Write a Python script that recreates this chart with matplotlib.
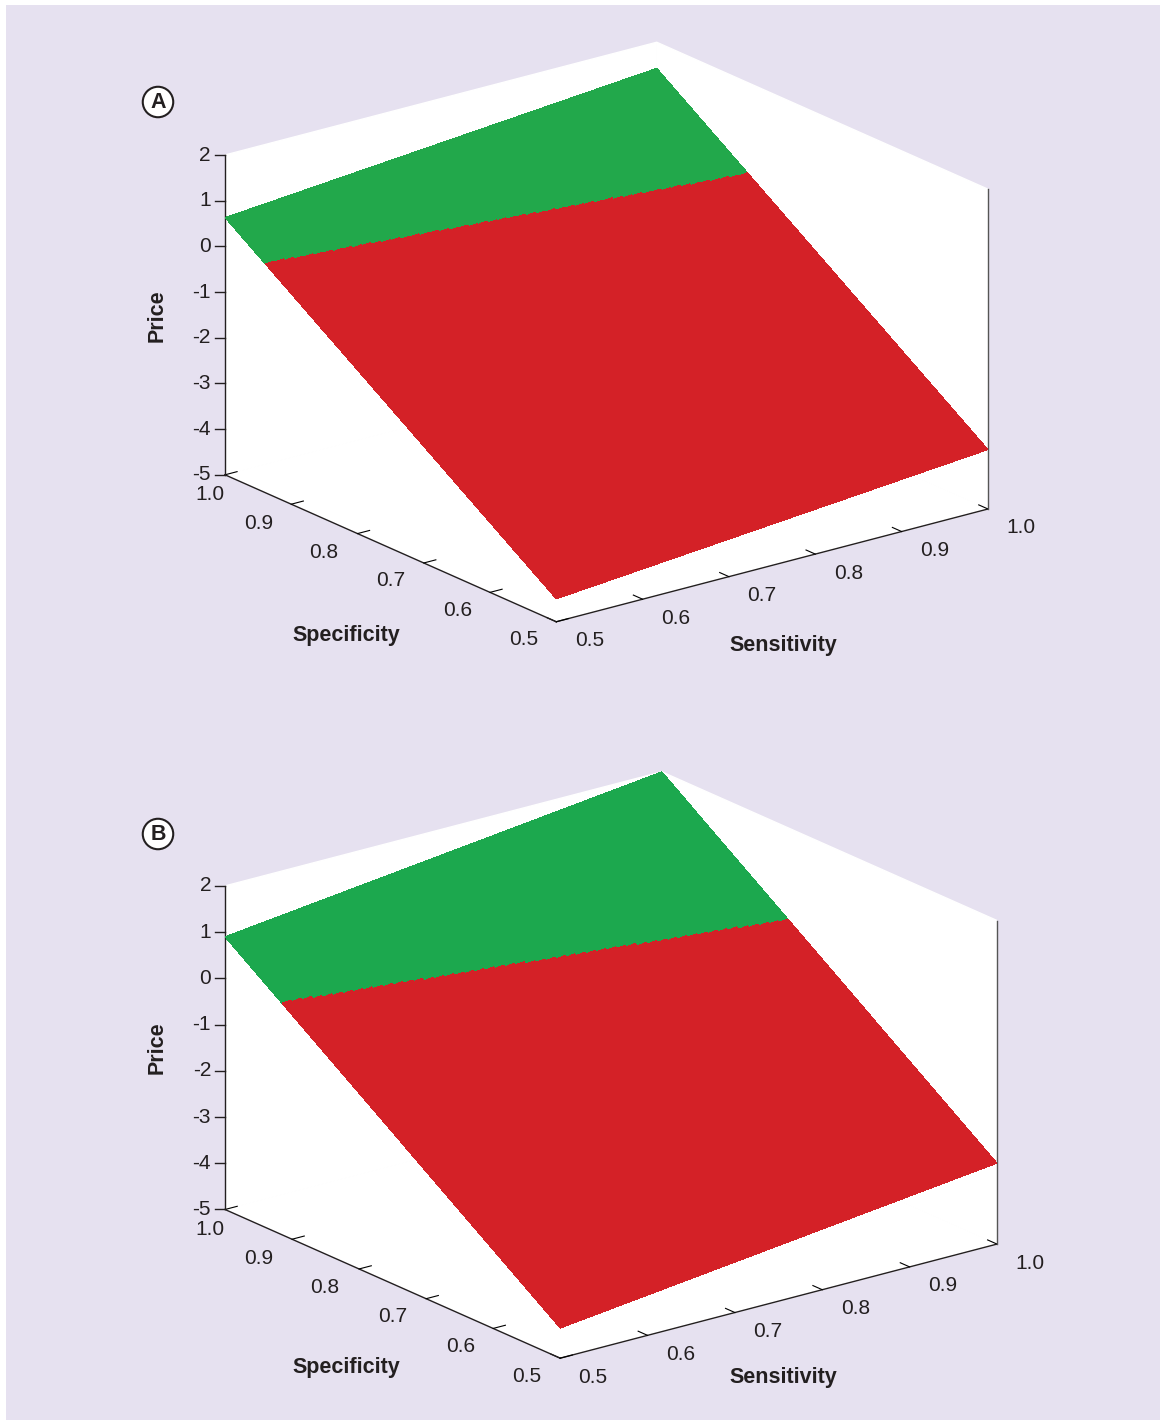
import numpy as np
import matplotlib
matplotlib.use("Agg")
import matplotlib.pyplot as plt
from matplotlib.patches import Rectangle
from matplotlib.lines import Line2D
from mpl_toolkits.mplot3d import proj3d

plt.rcParams['font.family'] = ['Liberation Sans', 'DejaVu Sans']
plt.rcParams['axes.unicode_minus'] = False

# ---------------- data ----------------
panel_letters = ["A", "B"]
# price plane: price = intercept + sens_coef * sensitivity + spec_coef * specificity
intercepts = [-10.43, -10.70]
sens_coefs = [1.60, 2.20]
spec_coefs = [10.26, 10.50]
sens_ticks = [0.5, 0.6, 0.7, 0.8, 0.9, 1.0]
spec_ticks = [0.5, 0.6, 0.7, 0.8, 0.9, 1.0]
price_ticks = [-5, -4, -3, -2, -1, 0, 1, 2]
tick_labels_01 = ["0.5", "0.6", "0.7", "0.8", "0.9", "1.0"]
price_labels = ["-5", "-4", "-3", "-2", "-1", "0", "1", "2"]
green_colors = ["#22A84B", "#1CA84E"]
red_color = "#D42127"
bg_color = "#E6E1F0"
ink = "#231F20"

W, H = 1161, 1422
fig = plt.figure(figsize=(W / 100, H / 100), dpi=100)
fig.patch.set_facecolor("white")
fig.patches.append(Rectangle((6 / W, 1 - 1420 / H), (1160 - 6) / W, (1420 - 5) / H,
                             transform=fig.transFigure, facecolor=bg_color,
                             edgecolor="none", zorder=-10))

# target pixel boxes (left, top, right, bottom) of the projected 3-D box
targets = [(225, 41, 988, 623), (225, 774, 997, 1356)]
label_pos = [
    dict(spec=(346, 636), sens=(783, 645), price=(157, 316), letter=(158, 102)),
    dict(spec=(346, 1368), sens=(783, 1378), price=(157, 1048), letter=(158, 834)),
]
# pixel offsets of tick labels from their tick points
sens_label_offset = (33, 19)
spec_label_offsets = [(-33, 18), (-32, 18), (-33, 18), (-34, 19), (-33, 19), (-15, 20)]

sens_grid = np.linspace(0.5, 1.0, 51)
spec_grid = np.linspace(0.5, 1.0, 501)
S, P = np.meshgrid(sens_grid, spec_grid)


def px2fig(x, y):
    return x / W, 1 - y / H


def to_px(ax, xs, ys, zs):
    x2, y2, _ = proj3d.proj_transform(np.asarray(xs, float), np.asarray(ys, float),
                                      np.asarray(zs, float), ax.get_proj())
    d = ax.transData.transform(np.column_stack([x2, y2]))
    return d[:, 0], H - d[:, 1]


def fit_axes(ax, box):
    tl, tt, tr, tb = box
    xl, yl, zl = ax.get_xlim(), ax.get_ylim(), ax.get_zlim()
    cx = [xl[i] for i in (0, 1) for j in (0, 1) for k in (0, 1)]
    cy = [yl[j] for i in (0, 1) for j in (0, 1) for k in (0, 1)]
    cz = [zl[k] for i in (0, 1) for j in (0, 1) for k in (0, 1)]
    for _ in range(4):
        fig.canvas.draw()
        px, py = to_px(ax, cx, cy, cz)
        s = (tr - tl) / (px.max() - px.min())
        pos = ax.get_position(original=True)
        axc = ((pos.x0 + pos.x1) / 2 * W, H - (pos.y0 + pos.y1) / 2 * H)
        D = pos.width * W
        pc = ((px.max() + px.min()) / 2, (py.max() + py.min()) / 2)
        off = ((pc[0] - axc[0]) * s, (pc[1] - axc[1]) * s)
        tc = ((tl + tr) / 2, (tt + tb) / 2)
        nc = (tc[0] - off[0], tc[1] - off[1])
        ND = D * s
        ax.set_position([(nc[0] - ND / 2) / W, 1 - (nc[1] + ND / 2) / H, ND / W, ND / H])
    fig.canvas.draw()


for i in range(2):
    ax = fig.add_axes([0.1, 0.5 - 0.5 * i, 0.6, 0.6 * W / H], projection="3d")
    ax.set_proj_type("ortho")
    ax.view_init(elev=19.9, azim=-127.5)
    ax.set_box_aspect((1, 1, 0.625))
    ax.set_facecolor("none")
    Z = intercepts[i] + sens_coefs[i] * S + spec_coefs[i] * P
    fc = np.empty(Z.shape + (4,))
    fc[Z >= 0] = matplotlib.colors.to_rgba(green_colors[i])
    fc[Z < 0] = matplotlib.colors.to_rgba(red_color)
    ax.plot_surface(S, P, Z, facecolors=fc, shade=False, linewidth=0,
                    antialiased=False, rstride=1, cstride=1)
    ax.set_xlim(0.5, 1.0)
    ax.set_ylim(0.5, 1.0)
    ax.set_zlim(-5, 2)
    ax.set_xticks(sens_ticks)
    ax.set_yticks(spec_ticks)
    ax.set_zticks(price_ticks)
    ax.set_xticklabels([""] * len(sens_ticks))
    ax.set_yticklabels([""] * len(spec_ticks))
    ax.set_zticklabels([""] * len(price_ticks))
    ax.grid(False)
    for axis in (ax.xaxis, ax.yaxis, ax.zaxis):
        axis.set_pane_color((1, 1, 1, 1))
        axis.pane.set_edgecolor("white")
        axis.line.set_color(ink)
        axis.line.set_linewidth(1.0)
        axis._axinfo["tick"]["inward_factor"] = 0.0
        axis._axinfo["tick"]["outward_factor"] = 0.35
        axis._axinfo["tick"]["color"] = ink
    ax.zaxis._axinfo["tick"]["outward_factor"] = 0.0
    # right back vertical edge
    ax.plot([1.0, 1.0], [0.5, 0.5], [-5, 2], color="#555555", lw=1.0)

    fit_axes(ax, targets[i])

    # tick labels placed at projected tick positions
    px, py = to_px(ax, sens_ticks, [0.5] * len(sens_ticks), [-5] * len(sens_ticks))
    for t, x, y in zip(tick_labels_01, px, py):
        fig.text(*px2fig(x + sens_label_offset[0], y + sens_label_offset[1]), t,
                 ha="center", va="center", fontsize=15, color=ink)
    px, py = to_px(ax, [0.5] * len(spec_ticks), spec_ticks, [-5] * len(spec_ticks))
    for t, x, y, o in zip(tick_labels_01, px, py, spec_label_offsets):
        fig.text(*px2fig(x + o[0], y + o[1]), t,
                 ha="center", va="center", fontsize=15, color=ink)
    px, py = to_px(ax, [0.5] * len(price_ticks), [1.0] * len(price_ticks), price_ticks)
    for t, x, y in zip(price_labels, px, py):
        fig.add_artist(Line2D([(x - 10) / W, x / W], [1 - y / H, 1 - y / H],
                              color=ink, lw=1.0, transform=fig.transFigure))
        fig.text(*px2fig(x - 14, y), t, ha="right", va="center", fontsize=15, color=ink)

    lp = label_pos[i]
    fig.text(*px2fig(*lp["spec"]), "Specificity", ha="center", va="center",
             fontsize=15.5, fontweight="bold", color=ink)
    fig.text(*px2fig(*lp["sens"]), "Sensitivity", ha="center", va="center",
             fontsize=15.5, fontweight="bold", color=ink)
    fig.text(*px2fig(*lp["price"]), "Price", ha="center", va="center",
             rotation=90, fontsize=15.5, fontweight="bold", color=ink)
    fig.text(*px2fig(*lp["letter"]), panel_letters[i], ha="center", va="center",
             fontsize=15.5, fontweight="bold", color=ink,
             bbox=dict(boxstyle="circle,pad=0.22", fc="white", ec=ink, lw=1.5))

fig.savefig("out.png", dpi=100)
